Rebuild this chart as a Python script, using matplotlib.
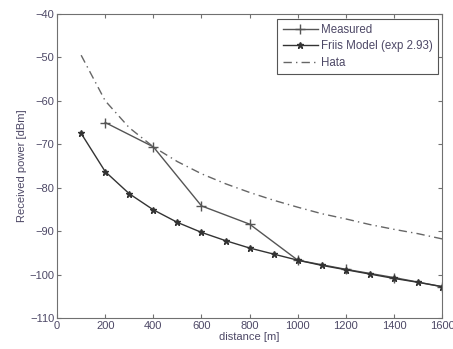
import matplotlib.pyplot as plt

plt.rcParams['font.family'] = ['Liberation Sans', 'DejaVu Sans']

meas_x = [200, 400, 600, 800, 1000, 1200, 1400, 1600]
meas_y = [-65.0, -70.6, -84.2, -88.4, -96.7, -98.8, -100.7, -102.8]

friis_x = [100, 200, 300, 400, 500, 600, 700, 800, 900, 1000, 1100, 1200, 1300, 1400, 1500, 1600]
friis_y = [-67.5, -76.3, -81.4, -85.1, -88.0, -90.3, -92.2, -93.9, -95.3, -96.7,
           -97.9, -98.9, -99.9, -100.9, -101.8, -102.8]

hata_x = [100, 200, 300, 400, 500, 600, 700, 800, 900, 1000, 1100, 1200, 1300, 1400, 1500, 1600]
hata_y = [-49.5, -60.0, -66.2, -70.6, -74.0, -76.8, -79.1, -81.1, -82.9, -84.5,
          -86.0, -87.2, -88.5, -89.6, -90.6, -91.8]

txt = '#4d4866'
lc = '#555555'

fig = plt.figure(figsize=(4.53, 3.49), dpi=100)
ax = fig.add_axes([0.126, 0.089, 0.85, 0.871])

ax.plot(meas_x, meas_y, color=lc, lw=1.0, marker='+', markersize=7, mew=1.0, label='Measured')
ax.plot(friis_x, friis_y, color='#333333', lw=1.0, marker='*', markersize=5,
        label='Friis Model (exp 2.93)')
ax.plot(hata_x, hata_y, color='#666666', lw=1.0, ls=(0, (6, 3, 1, 3)), label='Hata')

ax.set_xlim(0, 1600)
ax.set_ylim(-110, -40)
ax.set_xticks(range(0, 1601, 200))
ax.set_yticks(range(-110, -39, 10))
ax.tick_params(direction='in', length=3, colors='#707070', labelcolor=txt, labelsize=8,
               top=True, right=True, pad=2)
for s in ax.spines.values():
    s.set_color('#707070')

ax.set_xlabel('distance [m]', fontsize=8, color=txt, labelpad=1)
ax.set_ylabel('Received power [dBm]', fontsize=8, color=txt, labelpad=2)

leg = ax.legend(loc='upper right', fontsize=8.3, fancybox=False, framealpha=1,
                handlelength=3.1, borderpad=0.45, labelspacing=0.4, handletextpad=0.2,
                borderaxespad=0.4)
leg.get_frame().set_edgecolor('#555555')
leg.get_frame().set_linewidth(0.8)
for t in leg.get_texts():
    t.set_color(txt)

fig.savefig('out.png', dpi=100)
